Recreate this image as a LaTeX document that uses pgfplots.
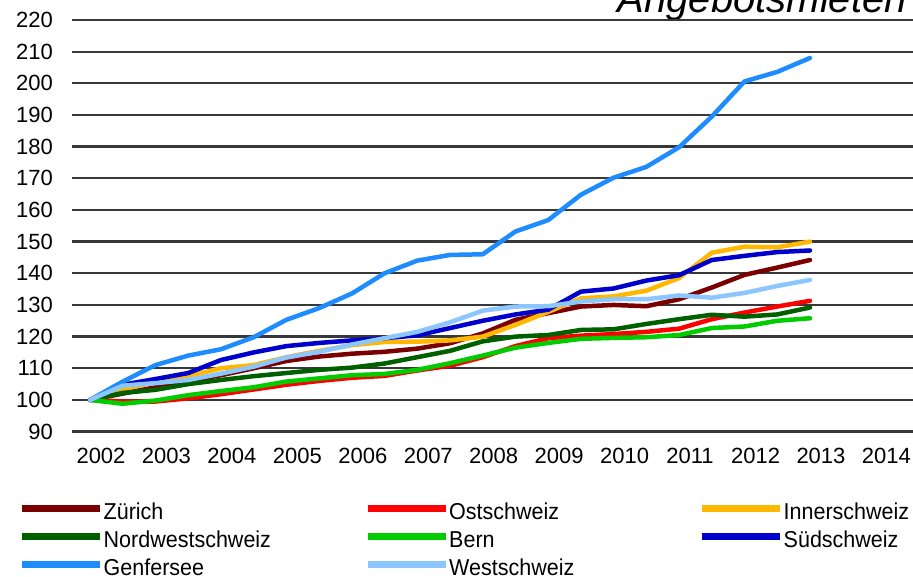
\documentclass[border=0pt]{standalone}
\usepackage{fontspec}
\setmainfont{Liberation Sans}
\newfontfamily\legfont[FakeStretch=0.935]{Liberation Sans}
\usepackage{pgfplots}
\pgfplotsset{compat=1.18}
\definecolor{zur}{HTML}{7A0000}
\definecolor{ost}{HTML}{FF0000}
\definecolor{inn}{HTML}{FFB700}
\definecolor{nws}{HTML}{006000}
\definecolor{ber}{HTML}{00CC00}
\definecolor{sud}{HTML}{0000CC}
\definecolor{gen}{HTML}{1E8CFF}
\definecolor{wes}{HTML}{8CC6FF}
\begin{document}
\begin{tikzpicture}
\path[use as bounding box] (0pt,0pt) rectangle (913pt,577pt);
\clip (0pt,0pt) rectangle (913pt,577pt);
\node[anchor=base east, inner sep=0pt, font=\fontsize{40}{44}\selectfont\itshape] at (907pt,564pt) {Angebotsmieten};
\begin{axis}[
 at={(72pt,145.4pt)}, anchor=south west,
 width=841pt, height=411.6pt, scale only axis,
 xmin=2001.725, xmax=2014.574, ymin=90, ymax=220,
 axis line style={draw=none},
 ytick={90,100,110,120,130,140,150,160,170,180,190,200,210,220},
 xtick={2002.168,2003.168,2004.168,2005.168,2006.168,2007.168,2008.168,2009.168,2010.168,2011.168,2012.168,2013.168,2014.168},
 xticklabels={2002,2003,2004,2005,2006,2007,2008,2009,2010,2011,2012,2013,2014},
 major tick length=0pt,
 ymajorgrids, grid style={black!78, line width=2.3pt},
 tick label style={font=\fontsize{22}{26}\selectfont},
 /pgf/number format/assume math mode=true,
 yticklabel style={anchor=east, inner sep=0pt, xshift=-19pt},
 xticklabel style={anchor=north, inner sep=0pt, yshift=-16pt},
 clip=false,
 legend columns=3,
 legend cell align=left,
 legend style={at={(-0.0630,-0.1784)}, anchor=north west, draw=none, fill=none, inner sep=0pt, row sep=11pt,
   nodes={inner sep=0pt, text height=14pt, text depth=3pt}, font=\legfont\fontsize{23}{24}\selectfont},
 /tikz/every even column/.append style={column sep=4pt},
 legend image code/.code={\draw[#1, line width=6.5pt, line cap=butt] (0pt,5pt) -- (78pt,5pt);},
 every axis plot/.append style={line width=4.5pt, line join=round, line cap=round},
]
\addplot[zur] coordinates {(2002,100)(2002.5,102)(2003,104)(2003.5,106)(2004,107.8)(2004.5,110)(2005,112.3)(2005.5,113.7)(2006,114.6)(2006.5,115.2)(2007,116.2)(2007.5,117.9)(2008,121)(2008.5,125.3)(2009,127.4)(2009.5,129.5)(2010,130)(2010.5,129.6)(2011,131.8)(2011.5,135.5)(2012,139.5)(2012.5,141.8)(2013,144.2)};
\addlegendentry{\makebox[257pt][l]{Zürich}}
\addplot[ost] coordinates {(2002,100)(2002.5,99.5)(2003,99.5)(2003.5,100.5)(2004,101.8)(2004.5,103.3)(2005,104.8)(2005.5,106)(2006,107)(2006.5,107.6)(2007,109.3)(2007.5,110.8)(2008,113.5)(2008.5,117)(2009,119.5)(2009.5,120.3)(2010,120.8)(2010.5,121.5)(2011,122.5)(2011.5,125.5)(2012,127.6)(2012.5,129.5)(2013,131.3)};
\addlegendentry{\makebox[246pt][l]{Ostschweiz}}
\addplot[inn] coordinates {(2002,100)(2002.5,103.5)(2003,105.5)(2003.5,107.5)(2004,110)(2004.5,111)(2005,113.5)(2005.5,115.5)(2006,117.3)(2006.5,118.3)(2007,118.4)(2007.5,118.8)(2008,120)(2008.5,123.7)(2009,127.8)(2009.5,132.1)(2010,132.7)(2010.5,134.5)(2011,138.5)(2011.5,146.5)(2012,148.4)(2012.5,148.2)(2013,150)};
\addlegendentry{Innerschweiz}
\addplot[nws] coordinates {(2002,100)(2002.5,102.2)(2003,103.2)(2003.5,105)(2004,106.3)(2004.5,107.5)(2005,108.5)(2005.5,109.5)(2006,110.2)(2006.5,111.5)(2007,113.5)(2007.5,115.5)(2008,118.5)(2008.5,120)(2009,120.5)(2009.5,122.1)(2010,122.3)(2010.5,124)(2011,125.5)(2011.5,126.9)(2012,126.3)(2012.5,127)(2013,129.2)};
\addlegendentry{\makebox[257pt][l]{Nordwestschweiz}}
\addplot[ber] coordinates {(2002,100)(2002.5,98.8)(2003,99.8)(2003.5,101.5)(2004,102.8)(2004.5,104)(2005,105.8)(2005.5,106.8)(2006,107.8)(2006.5,108.2)(2007,109.5)(2007.5,111.6)(2008,114)(2008.5,116.5)(2009,118)(2009.5,119.3)(2010,119.6)(2010.5,119.8)(2011,120.5)(2011.5,122.7)(2012,123.2)(2012.5,125)(2013,125.8)};
\addlegendentry{\makebox[246pt][l]{Bern}}
\addplot[sud] coordinates {(2002,100)(2002.5,104.8)(2003,106.6)(2003.5,108.5)(2004,112.6)(2004.5,115)(2005,117)(2005.5,118)(2006,118.8)(2006.5,119.5)(2007,120.4)(2007.5,122.7)(2008,125)(2008.5,127)(2009,128.5)(2009.5,134.2)(2010,135.2)(2010.5,137.7)(2011,139.4)(2011.5,144.2)(2012,145.5)(2012.5,146.7)(2013,147.2)};
\addlegendentry{Südschweiz}
\addplot[gen] coordinates {(2002,100)(2002.5,105.8)(2003,111)(2003.5,114)(2004,116)(2004.5,119.8)(2005,125.3)(2005.5,129)(2006,133.6)(2006.5,140)(2007,144)(2007.5,145.8)(2008,146)(2008.5,153.2)(2009,156.8)(2009.5,164.8)(2010,170.2)(2010.5,173.6)(2011,179.8)(2011.5,189.5)(2012,200.6)(2012.5,203.6)(2013,208)};
\addlegendentry{\makebox[257pt][l]{Genfersee}}
\addplot[wes] coordinates {(2002,100)(2002.5,104.5)(2003,105.3)(2003.5,106.3)(2004,108.3)(2004.5,110.5)(2005,113.4)(2005.5,115.2)(2006,117.5)(2006.5,119.5)(2007,121.5)(2007.5,124.5)(2008,128.2)(2008.5,129.5)(2009,129.6)(2009.5,131.1)(2010,131.8)(2010.5,131.8)(2011,133)(2011.5,132.3)(2012,133.8)(2012.5,136)(2013,137.9)};
\addlegendentry{\makebox[246pt][l]{Westschweiz}}
\end{axis}
\end{tikzpicture}
\end{document}
